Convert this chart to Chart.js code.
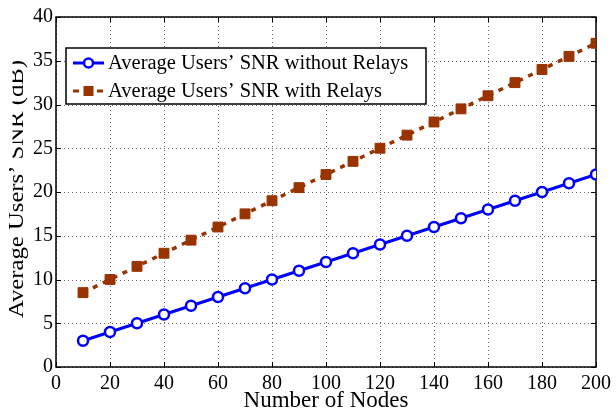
<!DOCTYPE html>
<html>
<head>
<meta charset="utf-8">
<script src="https://cdn.jsdelivr.net/npm/chart.js@4.4.1/dist/chart.umd.min.js"></script>
<style>
html,body{margin:0;padding:0;background:#fff;}
#wrap{width:616px;height:414px;position:relative;}
</style>
</head>
<body>
<div id="wrap"><canvas id="c" width="616" height="414"></canvas></div>
<script>
const nodes = [10,20,30,40,50,60,70,80,90,100,110,120,130,140,150,160,170,180,190,200];
const snrWithout = [3,4,5,6,7,8,9,10,11,12,13,14,15,16,17,18,19,20,21,22];
const snrWith = [8.5,10,11.5,13,14.5,16,17.5,19,20.5,22,23.5,25,26.5,28,29.5,31,32.5,34,35.5,37];
const seriesLabels = ['Average Users\u2019 SNR without Relays','Average Users\u2019 SNR with Relays'];
const xTitle = 'Number of Nodes';
const yTitle = 'Average Users\u2019 SNR (dB)';
const xTicks = [0,20,40,60,80,100,120,140,160,180,200];
const yTicks = [0,5,10,15,20,25,30,35,40];

const SERIF = '"Liberation Serif", "DejaVu Serif", serif';
const BLUE = '#0000ff';
const BROWN = '#993300';

const framePlugin = {
  id: 'frame',
  beforeDraw(chart) {
    const ctx = chart.ctx;
    ctx.save();
    ctx.fillStyle = '#fff';
    ctx.fillRect(0, 0, chart.width, chart.height);
    ctx.restore();
  },
  beforeDatasetsDraw(chart) {
    const ctx = chart.ctx, a = chart.chartArea;
    const xs = chart.scales.x, ys = chart.scales.y;
    ctx.save();
    ctx.strokeStyle = '#666';
    ctx.lineWidth = 1;
    ctx.setLineDash([1, 3]);
    ctx.beginPath();
    xTicks.forEach(v => {
      const px = Math.round(xs.getPixelForValue(v)) + 0.5;
      ctx.moveTo(px, a.bottom); ctx.lineTo(px, a.top);
    });
    yTicks.forEach(v => {
      const py = Math.round(ys.getPixelForValue(v)) + 0.5;
      ctx.moveTo(a.left, py); ctx.lineTo(a.right, py);
    });
    ctx.stroke();
    ctx.setLineDash([]);
    ctx.strokeStyle = '#000';
    const L = 5;
    ctx.beginPath();
    xTicks.forEach(v => {
      const px = Math.round(xs.getPixelForValue(v)) + 0.5;
      ctx.moveTo(px, a.bottom); ctx.lineTo(px, a.bottom - L);
      ctx.moveTo(px, a.top); ctx.lineTo(px, a.top + L);
    });
    yTicks.forEach(v => {
      const py = Math.round(ys.getPixelForValue(v)) + 0.5;
      ctx.moveTo(a.left, py); ctx.lineTo(a.left + L, py);
      ctx.moveTo(a.right, py); ctx.lineTo(a.right - L, py);
    });
    ctx.stroke();
    ctx.lineWidth = 1.5;
    ctx.strokeRect(a.left, a.top, a.right - a.left, a.bottom - a.top);
    ctx.restore();
  },
  afterDraw(chart) {
    const ctx = chart.ctx, a = chart.chartArea;
    // y title (stretched along its length like the reference)
    ctx.save();
    ctx.font = '20px ' + SERIF;
    const w = ctx.measureText(yTitle).width;
    const stretch = 258 / w;
    ctx.translate(23, 189);
    ctx.rotate(-Math.PI / 2);
    ctx.scale(stretch, 1);
    ctx.fillStyle = '#000';
    ctx.textAlign = 'center';
    ctx.textBaseline = 'alphabetic';
    ctx.fillText(yTitle, 0, 0);
    ctx.restore();
    ctx.save();
    ctx.fillStyle = '#fff';
    ctx.fillRect(0, 0, 12.5, 162);
    ctx.restore();

    // legend
    const bx = 66, by = 48, bw = 360, bh = 56;
    ctx.save();
    ctx.fillStyle = '#fff';
    ctx.fillRect(bx, by, bw, bh);
    ctx.strokeStyle = '#000';
    ctx.lineWidth = 1.5;
    ctx.strokeRect(bx, by, bw, bh);
    const rows = [63, 91];
    ctx.strokeStyle = BLUE; ctx.lineWidth = 3;
    ctx.beginPath(); ctx.moveTo(73, rows[0]); ctx.lineTo(104, rows[0]); ctx.stroke();
    ctx.lineWidth = 2.5; ctx.fillStyle = '#fff';
    ctx.beginPath(); ctx.arc(88.5, rows[0], 4.5, 0, Math.PI * 2); ctx.fill(); ctx.stroke();
    ctx.strokeStyle = BROWN; ctx.lineWidth = 3; ctx.setLineDash([6, 6]);
    ctx.beginPath(); ctx.moveTo(73, rows[1]); ctx.lineTo(104, rows[1]); ctx.stroke();
    ctx.setLineDash([]);
    ctx.fillStyle = BROWN;
    ctx.fillRect(83.5, rows[1] - 5, 10, 10);
    ctx.fillStyle = '#000';
    ctx.font = '20.5px ' + SERIF;
    ctx.textAlign = 'left';
    ctx.textBaseline = 'middle';
    ctx.fillText(seriesLabels[0], 108, rows[0] + 1);
    ctx.fillText(seriesLabels[1], 108, rows[1] + 1);
    ctx.restore();
  }
};

new Chart(document.getElementById('c'), {
  type: 'line',
  data: {
    datasets: [
      {
        label: seriesLabels[0],
        data: nodes.map((n, i) => ({x: n, y: snrWithout[i]})),
        borderColor: BLUE,
        borderWidth: 3,
        pointStyle: 'circle',
        pointRadius: 5,
        pointBorderWidth: 2.5,
        pointBorderColor: BLUE,
        pointBackgroundColor: '#fff',
        tension: 0,
        fill: false
      },
      {
        label: seriesLabels[1],
        data: nodes.map((n, i) => ({x: n, y: snrWith[i]})),
        borderColor: BROWN,
        borderWidth: 3.5,
        borderDash: [5, 6],
        pointStyle: 'rect',
        pointRadius: 7,
        pointBorderWidth: 1,
        pointBorderColor: BROWN,
        pointBackgroundColor: BROWN,
        tension: 0,
        fill: false
      }
    ]
  },
  options: {
    responsive: false,
    animation: false,
    events: [],
    layout: {padding: {top: 17, right: 17, left: 0, bottom: 0}},
    plugins: {legend: {display: false}, tooltip: {enabled: false}},
    scales: {
      x: {
        type: 'linear',
        min: 0, max: 200,
        afterBuildTicks(s) { s.ticks = xTicks.map(v => ({value: v})); },
        afterFit(s) { s.height = 47; },
        ticks: {font: {family: SERIF, size: 20}, color: '#000', padding: 5, maxRotation: 0, autoSkip: false},
        grid: {display: false, drawTicks: false},
        border: {display: false},
        title: {display: true, text: xTitle, font: {family: SERIF, size: 23, lineHeight: 1.1}, color: '#000', padding: 0}
      },
      y: {
        type: 'linear',
        min: 0, max: 40,
        afterBuildTicks(s) { s.ticks = yTicks.map(v => ({value: v})); },
        afterFit(s) { s.width = 56; },
        ticks: {font: {family: SERIF, size: 20}, color: '#000', padding: 3, autoSkip: false},
        grid: {display: false, drawTicks: false},
        border: {display: false}
      }
    }
  },
  plugins: [framePlugin]
});
</script>
</body>
</html>
